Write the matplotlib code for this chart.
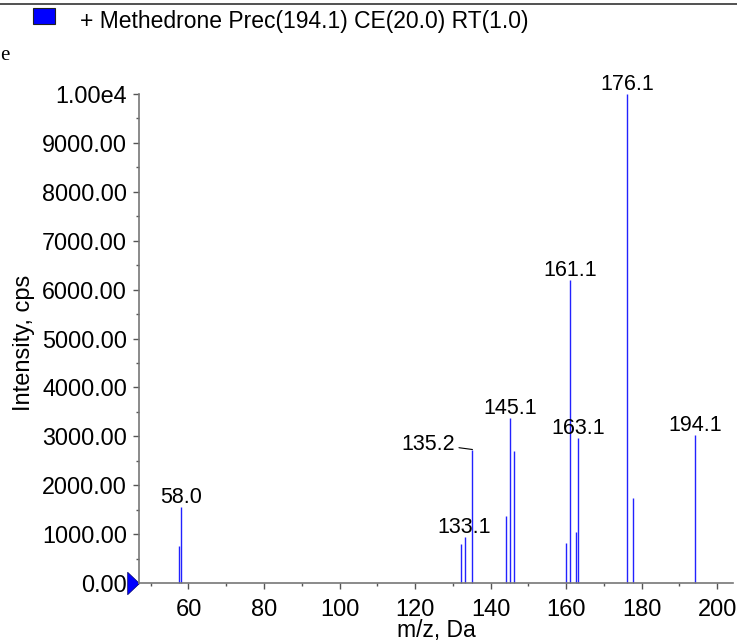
import matplotlib
matplotlib.use("Agg")
import matplotlib.pyplot as plt
from matplotlib.patches import Rectangle
from matplotlib.lines import Line2D
from matplotlib.path import Path

# peak list (m/z, intensity in cps)
mz = [57.5, 58.0, 132.1, 133.1, 135.2, 144.1, 145.1, 146.1,
      160.1, 161.1, 162.7, 163.1, 176.1, 177.7, 194.1]
intensity = [750, 1560, 800, 940, 2730, 1380, 3370, 2700,
             820, 6200, 1050, 2965, 10000, 1740, 3030]

# labelled peaks
label_mz = [58.0, 133.1, 145.1, 161.1, 163.1, 176.1, 194.1]
label_int = [1560, 940, 3370, 6200, 2965, 10000, 3030]

yticks = [0, 1000, 2000, 3000, 4000, 5000, 6000, 7000, 8000, 9000, 10000]
ytick_labels = ["0.00", "1000.00", "2000.00", "3000.00", "4000.00", "5000.00",
                "6000.00", "7000.00", "8000.00", "9000.00", "1.00e4"]
xticks = [60, 80, 100, 120, 140, 160, 180, 200]

title = "+ Methedrone Prec(194.1) CE(20.0) RT(1.0)"

plt.rcParams['font.family'] = ['Liberation Sans', 'DejaVu Sans']

W, H = 737, 641
fig = plt.figure(figsize=(W/100, H/100), dpi=100)
ax = fig.add_axes([139/W, 1 - 583/H, (733 - 139)/W, (583 - 94)/H])

ax.vlines(mz, 0, intensity, color='#2222ff', lw=1.0, clip_on=False)

ax.set_xlim(46.9, 204.2)
ax.set_ylim(0, 10000)

for m, i in zip(label_mz, label_int):
    ax.annotate(f"{m:.1f}", (m, i), xytext=(0, 3), textcoords='offset points',
                ha='center', va='baseline', fontsize=15.5, annotation_clip=False)

# 135.2 label sits off to the left with a leader line
ax.annotate("135.2", (135.2, 2730), xytext=(-32, 0), textcoords='offset points',
            ha='center', va='baseline', fontsize=15.5,
            arrowprops=dict(arrowstyle='-', color='black', lw=0.8,
                            relpos=(1.0, 0.35), shrinkA=1, shrinkB=0))

for s in ['top', 'right']:
    ax.spines[s].set_visible(False)
for s in ['left', 'bottom']:
    ax.spines[s].set_color('#777777')
    ax.spines[s].set_linewidth(1.2)

ax.set_yticks(yticks)
ax.set_yticklabels(ytick_labels)
ax.set_yticks([500 + 1000*k for k in range(10)], minor=True)
ax.set_xticks(xticks)
ax.set_xticks([50 + 10*k for k in range(16)], minor=True)
ax.tick_params(axis='y', which='major', length=4.5, width=1, color='#555555',
               labelsize=16.8, pad=4)
ax.tick_params(axis='x', which='major', length=4.5, width=1, color='#555555',
               labelsize=17, pad=7)
ax.tick_params(axis='both', which='minor', length=2.5, width=1, color='#555555')

fig.text(24/W, 1 - 343/H, "Intensity, cps", fontsize=17, rotation=90,
         ha='center', va='center')
fig.text(436.5/W, 1 - 637/H, "m/z, Da", fontsize=16.5, ha='center', va='baseline')

# blue marker at the origin of the y axis, tip on the axis
tri = Path([(0, 0), (-10, 9.5), (-10, -9.5), (0, 0)],
           [Path.MOVETO, Path.LINETO, Path.LINETO, Path.CLOSEPOLY])
ax.plot([46.9], [0], marker=tri, ms=17, color='blue', mec='#000066', mew=0.5,
        clip_on=False)

# header: rule, legend swatch and title
fig.add_artist(Line2D([0, 1], [1 - 4/H, 1 - 4/H], color='#333333', lw=1.2))
fig.add_artist(Rectangle((33/W, 1 - 24/H), 22/W, 16/H,
                         facecolor='blue', edgecolor='#222222', lw=0.8))
fig.text(80/W, 1 - 28/H, title, fontsize=16.5, va='baseline')
fig.text(0, 1 - 60/H, "e", fontsize=15, family='Liberation Serif', va='baseline')

fig.savefig("out.png", dpi=100)
